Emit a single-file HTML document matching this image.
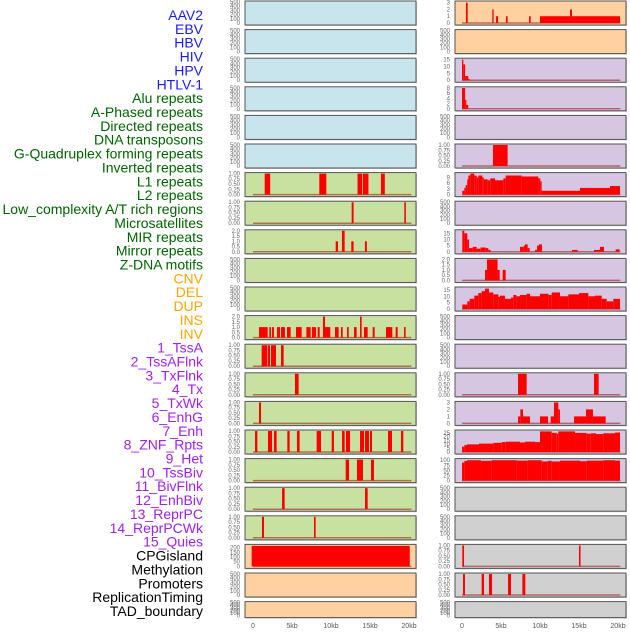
<!DOCTYPE html>
<html><head><meta charset="utf-8">
<style>
html,body{margin:0;padding:0;background:#fff;}
body{width:630px;height:630px;overflow:hidden;font-family:"Liberation Sans",sans-serif;}
</style></head>
<body>
<svg id="chart" width="630" height="630" xmlns="http://www.w3.org/2000/svg" font-family="Liberation Sans, sans-serif"></svg>
<script>
// ---------- data ----------
const trackLabels = ["AAV2","EBV","HBV","HIV","HPV","HTLV-1","Alu repeats","A-Phased repeats","Directed repeats","DNA transposons","G-Quadruplex forming repeats","Inverted repeats","L1 repeats","L2 repeats","Low_complexity A/T rich regions","Microsatellites","MIR repeats","Mirror repeats","Z-DNA motifs","CNV","DEL","DUP","INS","INV","1_TssA","2_TssAFlnk","3_TxFlnk","4_Tx","5_TxWk","6_EnhG","7_Enh","8_ZNF_Rpts","9_Het","10_TssBiv","11_BivFlnk","12_EnhBiv","13_ReprPC","14_ReprPCWk","15_Quies","CPGisland","Methylation","Promoters","ReplicationTiming","TAD_boundary"];
const labelGroups = [6,13,5,15,5];
const groupColors = ["#1a1aff","#006400","#ffa500","#a020f0","#000000"];
const xTickValues = [0,5,10,15,20];
const xTickLabels = ["0","5kb","10kb","15kb","20kb"];

const leftL1 = [[1.5,2.2,1],[8.5,9.4,1],[13.4,14.0,1],[14.1,14.8,1],[16.4,16.9,1]];
const leftL2 = [[12.65,12.9,1],[19.4,19.6,1]];
const leftMIR = [[10.6,10.9,1],[11.4,11.75,2],[12.6,12.9,1],[14.35,14.6,1]];
const leftINS = [[0.77,1.88,1],[2.09,2.31,1],[2.44,2.69,1],[3.08,3.46,1],[3.59,4.10,1],[4.36,4.83,1],[5.51,6.24,1],[6.84,7.39,1],[7.56,8.08,1],[8.29,8.55,1],[8.97,9.23,2],[9.23,9.91,1],[10.51,10.98,1],[11.28,11.5,1],[12.05,12.27,1],[12.95,13.29,1],[13.72,13.93,2],[14.23,14.7,1],[15.34,15.6,1],[17.05,17.86,1],[18.29,18.55,1],[19.36,19.57,1]];
const leftTssA = [[1.11,1.84,1],[1.92,2.18,1],[2.31,2.95,1],[3.59,3.93,1]];
const leftTssAFlnk = [[5.38,5.85,1]];
const leftTxFlnk = [[0.77,1.03,1]];
const leftTx = [[0.26,0.56,1],[1.92,2.44,1],[2.69,3.03,1],[4.40,4.70,1],[5.64,5.98,1],[8.16,8.72,1],[10.09,10.38,1],[11.41,11.75,1],[11.92,12.44,1],[13.72,14.23,1],[14.36,14.87,1],[15.0,15.26,1],[17.31,17.82,1],[18.97,19.27,1]];
const leftTxWk = [[11.88,12.31,1],[13.33,14.10,1],[15.13,15.51,1]];
const leftEnhG = [[3.72,4.06,1],[14.36,14.7,1]];
const leftEnh = [[1.15,1.41,1],[7.82,8.03,1]];
const leftCPG = [[-0.17,20.1,220]];

const rightAAV2 = [[0.51,0.73,3],[3.89,4.06,2],[4.36,4.62,1],[5.64,5.85,1],[8.59,8.8,1],[10.0,20.26,1],[13.85,14.1,2]];
const rightHIV = [[0,0.17,15],[0.17,0.4,11.5],[0.4,0.8,3],[0.8,0.97,1]];
const rightHPV = [[0,0.4,8],[0.4,0.53,3.5],[0.53,0.8,1.5]];
const rightGQuad = [[3.97,5.85,1]];
const rightL1 = [[0.04,0.3,2],[0.3,0.47,3.5],[0.47,0.68,5],[0.68,0.81,8],[0.81,1.07,10],[1.07,1.58,11],[1.58,1.88,10],[1.88,2.09,9],[2.09,2.61,10],[2.61,2.78,9],[2.78,3.29,8],[3.29,3.63,7.5],[3.63,4.23,8.5],[4.23,5.3,7.5],[5.3,5.6,8.5],[5.6,7.65,10],[7.65,9.79,9.5],[9.79,10.04,8.5],[10.04,10.21,7],[10.21,15.13,2],[15.13,18.97,3.5],[18.97,20.26,4.5]];
const rightMIR = [[0.04,0.3,17],[0.3,0.68,15],[0.68,0.9,10],[0.9,1.37,3],[1.37,1.88,4],[1.88,2.39,2.5],[2.39,3.03,3.5],[3.03,3.38,3],[3.38,3.68,1.5],[7.44,7.91,4],[7.91,8.08,5],[8.08,8.42,6],[8.42,8.68,3],[9.36,9.62,1.5],[9.62,9.87,5],[9.87,10.26,6],[14.1,14.83,1.5],[16.92,17.69,1.5],[17.69,18.21,4],[19.7,20.21,2]];
const rightMirror = [[2.95,3.21,1],[3.21,4.56,2],[4.56,4.83,1],[5.21,5.6,1]];
const rightDEL = [[0.04,0.68,3.5],[0.68,0.98,6],[0.98,1.58,8],[1.58,2.09,10.5],[2.09,2.52,12.5],[2.52,2.95,14],[2.95,3.46,16],[3.46,4.02,13],[4.02,4.66,11.5],[4.66,4.87,9.5],[4.87,5.51,10.5],[5.51,6.28,8],[6.28,6.58,9],[6.58,6.97,11],[6.97,7.44,10],[7.44,8.29,11],[8.29,8.72,12],[8.72,10.0,10],[10.0,11.07,12],[11.07,11.5,11],[11.5,12.56,13],[12.56,13.63,10],[13.63,15.0,11.5],[15.0,16.2,12.5],[16.2,17.05,10],[17.05,17.91,10.5],[17.91,18.55,8],[18.55,19.4,6],[19.4,20.26,8]];
const rightTx = [[7.18,8.29,1],[16.92,17.52,1]];
const rightTxWk = [[7.18,7.48,1],[7.48,7.82,2],[7.82,8.72,1],[10.0,11.03,1],[11.37,11.79,1],[11.79,12.35,3],[12.35,12.56,2],[14.36,15.9,1],[15.9,16.79,2],[16.79,18.42,1]];
const rightEnh = [[0,0.3,7],[0.3,0.64,9],[0.64,2.18,10],[2.18,4.02,11],[4.02,5.09,12],[5.09,5.6,13],[5.6,7.44,13.5],[7.44,8.08,12.5],[8.08,9.36,13.5],[9.36,10.0,13],[10.0,11.5,27],[11.5,12.14,25],[12.14,12.35,24],[12.35,14.49,27],[14.49,15.98,25],[15.98,16.5,24],[16.5,17.18,24.5],[17.18,18.12,23.5],[18.12,19.62,24.5],[19.62,20.26,25.5]];
const rightZNF = [[0,0.3,88],[0.3,0.64,96],[0.64,2.44,100],[2.44,3.8,97],[3.8,7.01,100],[7.01,8.42,98],[8.42,10.21,100],[10.21,10.98,94],[10.98,11.5,97],[11.5,12.56,94],[12.56,15.13,98],[15.13,15.98,95],[15.98,18.12,98],[18.12,19.62,100],[19.62,20.26,98]];
const rightCPG = [[0.04,0.26,1],[15.0,15.2,1]];
const rightMeth = [[0.13,0.38,1],[2.52,2.82,1],[3.46,3.85,1],[5.9,6.28,1],[7.74,8.12,1]];

const emptyTicks = [0,100,200,300,400,500];
const unitTicks = [0,0.25,0.5,0.75,1];
const twoTicks = [0,0.5,1,1.5,2];

// [row, side, fill, bars, ymax, ticks, tickDecimals]
const B="#c8e4ec",P="#ffd0a0",G="#c8e0a0",U="#d6c6e2",Y="#d0d0d0";
const panels = [
 [0,0,B,null,500,emptyTicks,0],[0,1,P,rightAAV2,3.1,[0,1,2,3],0],
 [1,0,B,null,500,emptyTicks,0],[1,1,P,null,500,emptyTicks,0],
 [2,0,B,null,500,emptyTicks,0],[2,1,U,rightHIV,15.3,[0,5,10,15],0],
 [3,0,B,null,500,emptyTicks,0],[3,1,U,rightHPV,8.1,[0,2,4,6,8],0],
 [4,0,B,null,500,emptyTicks,0],[4,1,U,null,500,emptyTicks,0],
 [5,0,B,null,500,emptyTicks,0],[5,1,U,rightGQuad,1,unitTicks,2],
 [6,0,G,leftL1,1,unitTicks,2],[6,1,U,rightL1,11,[0,3,6,9],0],
 [7,0,G,leftL2,1,unitTicks,2],[7,1,U,null,500,emptyTicks,0],
 [8,0,G,leftMIR,2,twoTicks,1],[8,1,U,rightMIR,17,[0,5,10,15],0],
 [9,0,G,null,500,emptyTicks,0],[9,1,U,rightMirror,2,twoTicks,1],
 [10,0,G,null,500,emptyTicks,0],[10,1,U,rightDEL,16.5,[0,5,10,15],0],
 [11,0,G,leftINS,2,twoTicks,1],[11,1,U,null,500,emptyTicks,0],
 [12,0,G,leftTssA,1,unitTicks,2],[12,1,U,null,500,emptyTicks,0],
 [13,0,G,leftTssAFlnk,1,unitTicks,2],[13,1,U,rightTx,1,unitTicks,2],
 [14,0,G,leftTxFlnk,1,unitTicks,2],[14,1,U,rightTxWk,3,[0,1,2,3],0],
 [15,0,G,leftTx,1,unitTicks,2],[15,1,U,rightEnh,27.5,[0,5,10,15,20,25],0],
 [16,0,G,leftTxWk,1,unitTicks,2],[16,1,U,rightZNF,103,[0,25,50,75,100],0],
 [17,0,G,leftEnhG,1,unitTicks,2],[17,1,Y,null,500,emptyTicks,0],
 [18,0,G,leftEnh,1,unitTicks,2],[18,1,Y,null,500,emptyTicks,0],
 [19,0,P,leftCPG,225,[0,50,100,150,200],0],[19,1,Y,rightCPG,1,unitTicks,2],
 [20,0,P,null,500,emptyTicks,0],[20,1,Y,rightMeth,1,unitTicks,2],
 [21,0,P,null,500,emptyTicks,0],[21,1,Y,null,500,emptyTicks,0]
];

// ---------- drawing ----------
const NS="http://www.w3.org/2000/svg";
const svg=document.getElementById('chart');
function mk(tag,attrs,parent){const e=document.createElementNS(NS,tag);for(const k in attrs)e.setAttribute(k,attrs[k]);(parent||svg).appendChild(e);return e;}
const panelX=[245,455], panelW=171, zeroX=[253,462], kbPx=7.8;
function xScale(side,kb){return zeroX[side]+kb*kbPx;}
function rowTop(r){return 1+28.6*r;}
function rowH(r){return r===21?16:24;}

// labels
let li=0;
labelGroups.forEach((n,g)=>{for(let k=0;k<n;k++){const t=mk('text',{x:203,y:20+li*13.86,'text-anchor':'end','font-size':'14',fill:groupColors[g]});


t.textContent=trackLabels[li];li++;}});

panels.forEach(p=>{
 const [r,side,fill,bars,ymax,ticks,dec]=p;
 const top=rowTop(r),h=rowH(r),x0=panelX[side];
 const g=mk('g',{});
 
 
 mk('rect',{x:x0+1,y:top+1,width:panelW,height:h,fill:'#999','opacity':0.5},g);
 const bg=mk('rect',{x:x0,y:top,width:panelW,height:h,fill:fill,stroke:'#555','stroke-width':1},g);
 
 
 const y0=top+h-2, y1=top+1;
 const yS=v=>y0-(v/ymax)*(y0-y1);
 ticks.forEach(tv=>{
  const t=mk('text',{x:x0-5,y:yS(tv)+2,'text-anchor':'end','font-size':'6',fill:'#666'},g);
  
  
  t.textContent=tv.toFixed(dec);
 });
 if(bars){
  mk('line',{x1:xScale(side,0),x2:xScale(side,20.3),y1:y0,y2:y0,stroke:'rgba(150,0,0,0.5)','stroke-width':1.5},g);
  bars.forEach(b=>{
   const xa=Math.max(x0+1,xScale(side,b[0])), xb=xScale(side,b[1]);
   const bar=mk('rect',{x:xa,y:yS(b[2]),width:Math.max(1.2,xb-xa),height:y0-yS(b[2]),fill:'#ff0000'},g);
   
   
  });
 }
});

// x axes
[0,1].forEach(side=>{
 xTickValues.forEach((v,i)=>{
  const t=mk('text',{x:xScale(side,v),y:628,'text-anchor':'middle','font-size':'7',fill:'#555'});
  
  
  t.textContent=xTickLabels[i];
 });
});
</script>
</body></html>
